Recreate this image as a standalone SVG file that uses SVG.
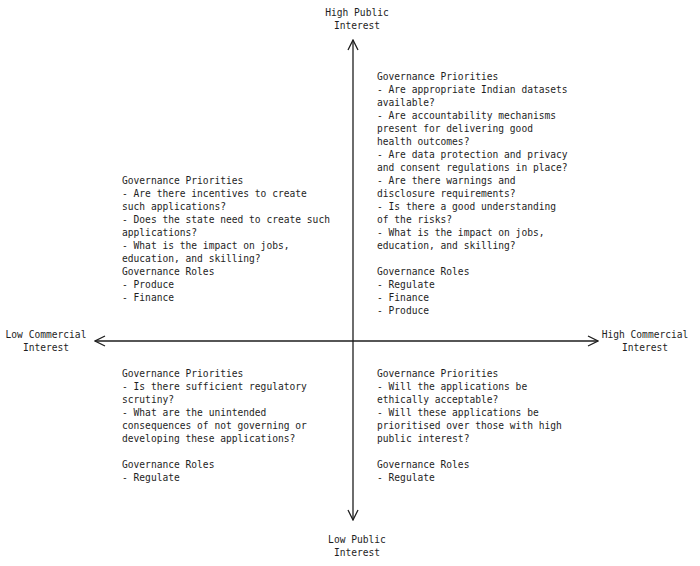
<svg xmlns="http://www.w3.org/2000/svg" width="700" height="566" viewBox="0 0 700 566">
<defs>
<style>
text{font-family:"DejaVu Sans Mono","Liberation Mono",monospace;font-size:9.6px;fill:#1e1e1e}
.c{text-anchor:middle}
.ax{stroke:#1e1e1e;stroke-width:1.3;fill:none}
</style>
<marker id="a" viewBox="0 0 12 12" refX="11" refY="6" markerWidth="12" markerHeight="12" markerUnits="userSpaceOnUse" orient="auto"><path d="M1,1 L11,6 L1,11" fill="none" stroke="#1e1e1e" stroke-width="1.3"/></marker>
</defs>
<rect width="700" height="566" fill="#fff"/>
<g id="connectors">
<line class="ax" x1="353" y1="340" x2="353" y2="40" marker-end="url(#a)"/>
<line class="ax" x1="353" y1="340" x2="353" y2="520" marker-end="url(#a)"/>
<line class="ax" x1="353" y1="341" x2="95" y2="341" marker-end="url(#a)"/>
<line class="ax" x1="353" y1="341" x2="598" y2="341" marker-end="url(#a)"/>
</g>
<g id="axis-labels">
<text class="c" x="357" y="16">High Public</text><text class="c" x="357" y="29">Interest</text>
<text class="c" x="357" y="543">Low Public</text><text class="c" x="357" y="556">Interest</text>
<text class="c" x="46" y="338">Low Commercial</text><text class="c" x="46" y="351">Interest</text>
<text class="c" x="645" y="338">High Commercial</text><text class="c" x="645" y="351">Interest</text>
</g>
<g id="top-right">
<text x="377" y="80">Governance Priorities</text>
<text x="377" y="93">- Are appropriate Indian datasets</text>
<text x="377" y="106">available?</text>
<text x="377" y="119">- Are accountability mechanisms</text>
<text x="377" y="132">present for delivering good</text>
<text x="377" y="145">health outcomes?</text>
<text x="377" y="158">- Are data protection and privacy</text>
<text x="377" y="171">and consent regulations in place?</text>
<text x="377" y="184">- Are there warnings and</text>
<text x="377" y="197">disclosure requirements?</text>
<text x="377" y="210">- Is there a good understanding</text>
<text x="377" y="223">of the risks?</text>
<text x="377" y="236">- What is the impact on jobs,</text>
<text x="377" y="249">education, and skilling?</text>
<text x="377" y="275">Governance Roles</text>
<text x="377" y="288">- Regulate</text>
<text x="377" y="301">- Finance</text>
<text x="377" y="314">- Produce</text>
</g>
<g id="top-left">
<text x="122" y="184">Governance Priorities</text>
<text x="122" y="197">- Are there incentives to create</text>
<text x="122" y="210">such applications?</text>
<text x="122" y="223">- Does the state need to create such</text>
<text x="122" y="236">applications?</text>
<text x="122" y="249">- What is the impact on jobs,</text>
<text x="122" y="262">education, and skilling?</text>
<text x="122" y="275">Governance Roles</text>
<text x="122" y="288">- Produce</text>
<text x="122" y="301">- Finance</text>
</g>
<g id="bottom-left">
<text x="122" y="377">Governance Priorities</text>
<text x="122" y="390">- Is there sufficient regulatory</text>
<text x="122" y="403">scrutiny?</text>
<text x="122" y="416">- What are the unintended</text>
<text x="122" y="429">consequences of not governing or</text>
<text x="122" y="442">developing these applications?</text>
<text x="122" y="468">Governance Roles</text>
<text x="122" y="481">- Regulate</text>
</g>
<g id="bottom-right">
<text x="377" y="377">Governance Priorities</text>
<text x="377" y="390">- Will the applications be</text>
<text x="377" y="403">ethically acceptable?</text>
<text x="377" y="416">- Will these applications be</text>
<text x="377" y="429">prioritised over those with high</text>
<text x="377" y="442">public interest?</text>
<text x="377" y="468">Governance Roles</text>
<text x="377" y="481">- Regulate</text>
</g>
</svg>
